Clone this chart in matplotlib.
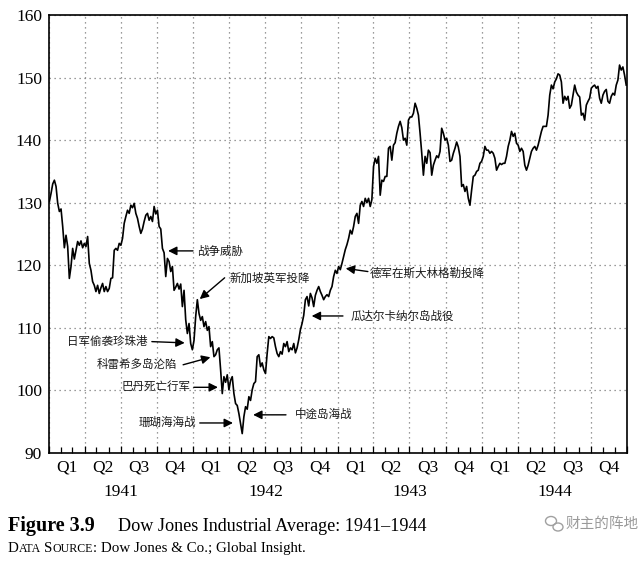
import numpy as np
import pandas as pd
import matplotlib
matplotlib.use("Agg")
import matplotlib.pyplot as plt
import matplotlib.dates as mdates
from matplotlib.patches import Ellipse

# ---------------- data ----------------
dow = [
    130.2, 131.5, 133.0, 133.6, 132.6,
    129.9, 128.6, 129.0, 126.2, 122.8, 124.8, 123.0, 117.9, 119.8, 122.7,
    121.0, 122.4, 123.8, 123.2, 123.9, 122.8, 123.5, 123.0, 124.6, 120.3,
    119.2, 117.4, 116.8, 115.8, 116.8, 115.5, 116.4, 117.1, 115.8, 116.6,
    115.8, 116.3, 117.9, 118.0, 122.4, 122.7, 122.4, 123.5, 123.2, 124.3,
    126.7, 127.8, 128.8, 128.3, 129.6, 129.2, 129.9, 128.3, 127.5, 126.2,
    125.1, 125.8, 127.0, 128.0, 128.3, 127.2, 127.8, 127.0, 129.4, 128.2,
    128.8, 126.2, 125.8, 122.7, 122.0, 118.2, 121.1, 120.6, 119.0, 119.8,
    116.0, 116.5, 117.1, 116.2, 117.0, 113.4, 116.0, 111.3, 109.1, 110.7,
    107.5, 106.5, 108.0, 111.8, 114.5, 112.3, 111.2, 111.8, 110.2, 111.0,
    109.6, 110.2, 107.0, 107.8, 105.4, 105.7, 106.5, 106.8, 103.3, 99.5,
    102.2, 101.3, 102.5, 100.1, 101.6, 102.2, 99.5, 97.9, 97.6, 96.3,
    94.7, 93.1, 95.8, 97.4, 97.0, 99.0, 98.4, 100.1, 101.1, 101.4,
    105.4, 105.7, 103.8, 104.4, 103.3, 102.7, 105.9, 108.6, 108.3, 108.6,
    108.4, 107.0, 105.9, 105.4, 106.2, 105.8, 107.5, 107.0, 107.8, 106.2,
    106.8, 106.5, 107.5, 106.0, 106.8, 108.1, 109.7, 110.7, 112.0, 114.5,
    115.0, 113.5, 115.5, 114.8, 113.4, 115.2, 116.0, 116.6, 115.8, 115.2,
    114.5, 115.0, 115.3, 115.0, 116.0, 116.6, 118.2, 119.2, 118.7, 119.8,
    119.3, 120.3, 121.4, 122.5, 123.3, 124.3, 125.6, 125.0, 126.2, 127.8,
    128.3, 126.7, 129.6, 130.2, 129.4, 130.7, 130.0, 130.7, 129.4, 130.5,
    135.8, 137.1, 136.3, 137.4, 131.2, 133.6, 133.4, 134.2, 134.2, 138.7,
    139.0, 136.8, 139.2, 139.6, 141.1, 142.2, 143.0, 142.0, 140.0, 140.3,
    139.2, 143.2, 143.7, 143.7, 144.3, 145.9, 145.1, 144.0, 141.1, 137.9,
    134.4, 137.4, 136.3, 138.4, 138.0, 134.4, 136.0, 136.8, 137.5, 137.2,
    138.2, 141.9, 141.1, 140.0, 140.3, 139.2, 136.6, 136.8, 137.9, 138.7,
    139.7, 138.9, 137.4, 132.6, 132.9, 131.8, 132.6, 130.7, 129.6, 132.0,
    134.2, 134.4, 135.0, 135.2, 136.3, 136.6, 137.4, 139.0, 138.4, 138.4,
    137.9, 138.2, 137.9, 137.1, 135.2, 135.8, 136.3, 136.1, 136.3, 136.3,
    137.4, 139.0, 140.0, 141.4, 140.6, 141.1, 139.5, 139.2, 138.2, 138.7,
    138.2, 136.0, 135.2, 136.0, 137.1, 138.2, 138.7, 139.0, 138.4, 139.2,
    140.3, 141.4, 142.2, 142.2, 142.2, 144.0, 147.2, 148.8, 148.2, 149.3,
    149.8, 150.6, 150.4, 149.3, 145.9, 147.0, 146.4, 147.0, 145.1, 145.6,
    147.2, 148.8, 147.7, 147.2, 146.9, 144.0, 144.3, 143.2, 145.6, 146.2,
    146.7, 148.3, 148.6, 148.8, 148.3, 148.6, 146.7, 145.9, 147.2, 147.8,
    148.1, 146.2, 145.9, 147.0, 147.5, 147.2, 148.8, 149.6, 152.0, 151.2,
    151.7, 150.4, 148.8,
]
dates = pd.date_range("1941-01-02", "1944-12-30", periods=len(dow))

years = [1941, 1942, 1943, 1944]
quarters = ["Q1", "Q2", "Q3", "Q4"]
yticks = [90, 100, 110, 120, 130, 140, 150, 160]

# annotations: label, arrow tip (date, value), arrow tail (date, value), text anchor (date, value), alignment
events = [
    ("战争威胁", "1941-10-29", 122.3, "1941-12-31", 122.3, "1942-01-10", 122.2, "left"),
    ("新加坡英军投降", "1942-01-17", 114.6, "1942-03-21", 118.0, "1942-04-01", 117.9, "left"),
    ("日军偷袭珍珠港", "1941-12-10", 107.6, "1941-09-18", 107.8, "1941-09-06", 107.9, "right"),
    ("科雷希多岛沦陷", "1942-02-13", 105.3, "1941-12-06", 104.1, "1941-11-20", 104.1, "right"),
    ("巴丹死亡行军", "1942-03-04", 100.5, "1942-01-02", 100.5, "1941-12-24", 100.6, "right"),
    ("珊瑚海海战", "1942-04-11", 94.8, "1942-01-17", 94.8, "1942-01-07", 94.85, "right"),
    ("中途岛海战", "1942-06-01", 96.1, "1942-08-23", 96.1, "1942-09-15", 96.1, "left"),
    ("瓜达尔卡纳尔岛战役", "1942-10-27", 111.9, "1943-01-14", 111.9, "1943-02-03", 111.9, "left"),
    ("德军在斯大林格勒投降", "1943-01-21", 119.5, "1943-03-18", 119.0, "1943-03-22", 118.8, "left"),
]

# ---------------- figure ----------------
serif = ["Liberation Serif", "DejaVu Serif"]
cjk = ["Noto Sans CJK SC", "DejaVu Sans"]

fig = plt.figure(figsize=(6.40, 5.62), dpi=100)
W, H = 640, 562
ax = fig.add_axes([49 / W, 1 - 453 / H, (627 - 49) / W, (453 - 15) / H])

ax.plot(dates, dow, color="black", lw=1.2, zorder=3)

x0 = pd.Timestamp("1941-01-01")
x1 = pd.Timestamp("1945-01-01")
ax.set_xlim(x0, x1)
ax.set_ylim(90, 160)

qstarts = pd.date_range("1941-01-01", "1945-01-01", freq="QS")
months = pd.date_range("1941-01-01", "1945-01-01", freq="MS")
ax.set_xticks(qstarts)
ax.set_xticks(months, minor=True)
ax.set_xticklabels([])
ax.tick_params(axis="x", which="both", direction="in", length=4, width=0.9, color="black")
ax.tick_params(axis="x", which="major", length=5)

ax.set_yticks(yticks)
ax.set_yticklabels([str(v) for v in yticks], fontfamily=serif, fontsize=12.5)
ax.tick_params(axis="y", which="both", length=0, pad=5)

ax.grid(True, which="major", color="#7a7a7a", lw=0.9, linestyle=(0, (1, 3)))
for s in ax.spines.values():
    s.set_linewidth(1.2)
    s.set_color("black")

# quarter and year labels
xtr = ax.get_xaxis_transform()
for i in range(len(qstarts) - 1):
    mid = qstarts[i] + (qstarts[i + 1] - qstarts[i]) / 2
    ax.text(mid, -14 / 438, quarters[i % 4], transform=xtr, ha="center", va="center",
            fontfamily=serif, fontsize=12.5)
for i, y in enumerate(years):
    a = pd.Timestamp(f"{y}-01-01")
    b = pd.Timestamp(f"{y + 1}-01-01")
    ax.text(a + (b - a) / 2, -39 / 438, str(y), transform=xtr, ha="center", va="center",
            fontfamily=serif, fontsize=12.5)

# event annotations
for lab, td, tv, sd, sv, xd, xv, ha in events:
    ax.annotate("", xy=(pd.Timestamp(td), tv), xytext=(pd.Timestamp(sd), sv),
                arrowprops=dict(arrowstyle="-|>", color="black", lw=1.0,
                                mutation_scale=13, shrinkA=0, shrinkB=0), zorder=4)
    ax.text(pd.Timestamp(xd), xv, lab, ha=ha, va="center", fontfamily=cjk,
            fontsize=8.3, color="#1a1a1a", zorder=5)

# ---------------- caption ----------------
def px(x, y):
    return x / W, 1 - y / H

renderer = fig.canvas.get_renderer()

def runs(x, y, parts):
    fx, fy = px(x, y)
    for txt, size, weight, gap in parts:
        t = fig.text(fx, fy, txt, fontsize=size, fontweight=weight, fontfamily=serif,
                     va="baseline", ha="left")
        w = t.get_window_extent(renderer).width
        fx += (w + gap) / W

fig.text(*px(8, 531), "Figure 3.9", fontsize=14.5, fontweight="bold", fontfamily=serif,
         va="baseline", ha="left")
fig.text(*px(118, 531), "Dow Jones Industrial Average: 1941\u20131944", fontsize=13.1,
         fontfamily=serif, va="baseline", ha="left")
runs(8, 552, [("D", 10.8, "normal", 0), ("ATA", 8.6, "normal", 3), ("S", 10.8, "normal", 0),
              ("OURCE", 8.6, "normal", 0),
              (": Dow Jones & Co.; Global Insight.", 10.8, "normal", 0)])

# watermark
fig.text(*px(566, 524), "财主的阵地", fontsize=10.5, fontfamily=cjk, color="#9a9a9a",
         va="center", ha="left")
fig.patches.append(Ellipse(px(551, 521), 11 / W, 9 / H, transform=fig.transFigure,
                           fill=False, edgecolor="#a0a0a0", lw=1.0))
fig.patches.append(Ellipse(px(558, 527), 10 / W, 8 / H, transform=fig.transFigure,
                           fill=False, edgecolor="#a0a0a0", lw=1.0))

fig.savefig("out.png", dpi=100)
